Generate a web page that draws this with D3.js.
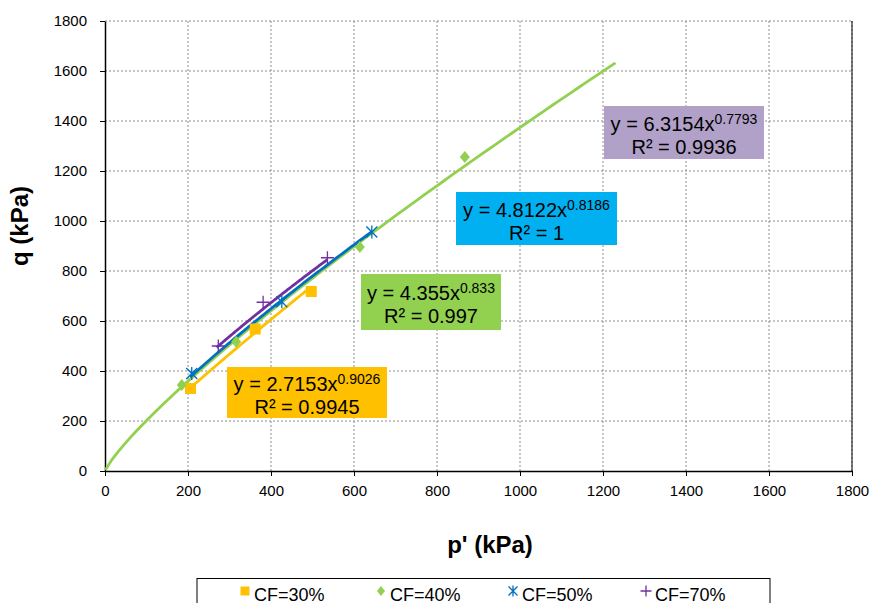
<!DOCTYPE html>
<html>
<head>
<meta charset="utf-8">
<script src="https://cdn.jsdelivr.net/npm/d3@7"></script>
<style>
  body { margin: 0; background: #fff; }
  svg { display: block; font-family: "Liberation Sans", Arial, sans-serif; }
</style>
</head>
<body>
<svg id="chart" width="873" height="603"></svg>
<script>
// ==== data ====
const xTicks = [0, 200, 400, 600, 800, 1000, 1200, 1400, 1600, 1800];
const yTicks = [0, 200, 400, 600, 800, 1000, 1200, 1400, 1600, 1800];

const seriesNames = ["CF=30%", "CF=40%", "CF=50%", "CF=70%"];
const cf30 = [[206, 330], [362, 568], [497, 718]];
const cf40 = [[185, 344], [316, 517], [614, 896], [867, 1256]];
const cf50 = [[209, 390], [426, 677], [643, 956]];
const cf70 = [[273, 500], [381, 675], [536, 853]];

// power trendlines y = a*x^b, shown on the chart
const fitA = [2.7153, 4.355, 4.8122, 6.3154];
const fitB = [0.9026, 0.833, 0.8186, 0.7793];
const fitR2 = ["0.9945", "0.997", "1", "0.9936"];
const fitFrom = [206, 1, 205, 269];
const fitTo = [497, 1230, 643, 536];

const lineColors = ["#FFC000", "#92D050", "#0070C0", "#7030A0"];
const boxColors = ["#FFC000", "#92D050", "#00B0F0", "#B1A0C7"];

// ==== layout ====
const svg = d3.select("#chart");
const margin = { left: 105, top: 21, right: 21, bottom: 132 };
const W = 873, H = 603;
const innerW = W - margin.left - margin.right;
const innerH = H - margin.top - margin.bottom;

const x = d3.scaleLinear().domain([0, 1800]).range([margin.left, margin.left + innerW]);
const y = d3.scaleLinear().domain([0, 1800]).range([margin.top + innerH, margin.top]);

// gridlines
const grid = svg.append("g");
grid.selectAll(".gx").data(xTicks.slice(1)).enter().append("line")
  .attr("x1", d => x(d)).attr("x2", d => x(d))
  .attr("y1", y(0)).attr("y2", y(1800))
  .attr("stroke", "#8c8c8c").attr("stroke-width", 1).attr("stroke-dasharray", "2,2");
grid.selectAll(".gy").data(yTicks.slice(1)).enter().append("line")
  .attr("x1", x(0)).attr("x2", x(1800))
  .attr("y1", d => y(d)).attr("y2", d => y(d))
  .attr("stroke", "#8c8c8c").attr("stroke-width", 1).attr("stroke-dasharray", "2,2");
// right border
svg.append("line")
  .attr("x1", x(1800)).attr("x2", x(1800)).attr("y1", y(0)).attr("y2", y(1800))
  .attr("stroke", "#000").attr("stroke-width", 1);

// axes
const fmt = d3.format("d");
const xAxis = svg.append("g")
  .attr("transform", `translate(0,${y(0)})`)
  .call(d3.axisBottom(x).tickValues(xTicks).tickFormat(fmt).tickSize(5).tickSizeOuter(0).tickPadding(9));
const yAxis = svg.append("g")
  .attr("transform", `translate(${x(0)},0)`)
  .call(d3.axisLeft(y).tickValues(yTicks).tickFormat(fmt).tickSize(5).tickSizeOuter(0).tickPadding(13));
[xAxis, yAxis].forEach(a => {
  a.select(".domain").attr("stroke", "#000").attr("stroke-width", 1.5);
  a.selectAll(".tick line").attr("stroke", "#000");
  a.selectAll("text").style("font-size", "15px").style("font-family", "Liberation Sans, Arial").attr("fill", "#000");
});

// axis titles
svg.append("text")
  .attr("x", 490).attr("y", 553)
  .attr("text-anchor", "middle")
  .style("font-size", "24px").style("font-weight", "bold")
  .text("p' (kPa)");
svg.append("text")
  .attr("transform", "translate(28,226) rotate(-90)")
  .attr("text-anchor", "middle")
  .style("font-size", "24px").style("font-weight", "bold")
  .text("q (kPa)");

// trendlines
const line = d3.line().x(d => x(d[0])).y(d => y(d[1]));
const drawOrder = [1, 0, 2, 3];
drawOrder.forEach(i => {
  const n = 80;
  const pts = d3.range(n + 1).map(k => {
    const p = fitFrom[i] + (fitTo[i] - fitFrom[i]) * k / n;
    return [p, fitA[i] * Math.pow(p, fitB[i])];
  });
  svg.append("path")
    .attr("d", line(pts))
    .attr("fill", "none")
    .attr("stroke", lineColors[i])
    .attr("stroke-width", 2.8);
});

// markers
function marker(g, type, color, cx, cy, s) {
  if (type === 0) {
    g.append("rect").attr("x", cx - s / 2).attr("y", cy - s / 2)
      .attr("width", s).attr("height", s).attr("fill", color);
  } else if (type === 1) {
    g.append("path")
      .attr("d", `M${cx},${cy - s / 2 - 1}L${cx + s / 2},${cy}L${cx},${cy + s / 2 + 1}L${cx - s / 2},${cy}Z`)
      .attr("fill", color);
  } else if (type === 2) {
    const r = s / 2;
    g.append("path")
      .attr("d", `M${cx - r},${cy - r}L${cx + r},${cy + r}M${cx + r},${cy - r}L${cx - r},${cy + r}M${cx},${cy - r - 1}L${cx},${cy + r + 1}`)
      .attr("stroke", color).attr("stroke-width", 1.3).attr("fill", "none");
  } else {
    const r = s / 2 + 1;
    g.append("path")
      .attr("d", `M${cx - r},${cy}L${cx + r},${cy}M${cx},${cy - r}L${cx},${cy + r}`)
      .attr("stroke", color).attr("stroke-width", 1.3).attr("fill", "none");
  }
}
const markerColors = ["#FFC000", "#92D050", "#0070C0", "#7030A0"];
const allSeries = [cf30, cf40, cf50, cf70];
const mg = svg.append("g");
allSeries.forEach((s, i) => {
  s.forEach(d => marker(mg, i, markerColors[i], x(d[0]), y(d[1]), i === 1 ? 10 : 11));
});

// equation boxes
const boxes = [
  { x: 227, y: 367, w: 160, h: 51 },
  { x: 361, y: 274, w: 140, h: 56 },
  { x: 456, y: 192, w: 161, h: 53 },
  { x: 604, y: 106, w: 160, h: 53 }
];
boxes.forEach((b, i) => {
  const g = svg.append("g");
  g.append("rect").attr("x", b.x).attr("y", b.y).attr("width", b.w).attr("height", b.h)
    .attr("fill", boxColors[i]);
  const t = g.append("text")
    .attr("x", b.x + b.w / 2).attr("y", b.y + b.h / 2 - 2)
    .attr("text-anchor", "middle")
    .style("font-size", "20px").attr("fill", "#000");
  t.append("tspan").text(`y = ${fitA[i]}x`);
  t.append("tspan").attr("dy", -7).style("font-size", "14px").text(fitB[i]);
  g.append("text")
    .attr("x", b.x + b.w / 2).attr("y", b.y + b.h / 2 + 21)
    .attr("text-anchor", "middle")
    .style("font-size", "20px").attr("fill", "#000")
    .text(`R² = ${fitR2[i]}`);
});

// legend
const lg = svg.append("g");
lg.append("rect").attr("x", 197).attr("y", 578.5).attr("width", 573).attr("height", 40)
  .attr("fill", "#fff").attr("stroke", "#000").attr("stroke-width", 1);
const legX = [245, 381, 513, 646];
seriesNames.forEach((name, i) => {
  marker(lg, i, markerColors[i], legX[i], 591, i === 1 ? 8 : 9);
  lg.append("text").attr("x", legX[i] + 9).attr("y", 601)
    .style("font-size", "18px").attr("fill", "#000").text(name);
});
</script>
</body>
</html>
